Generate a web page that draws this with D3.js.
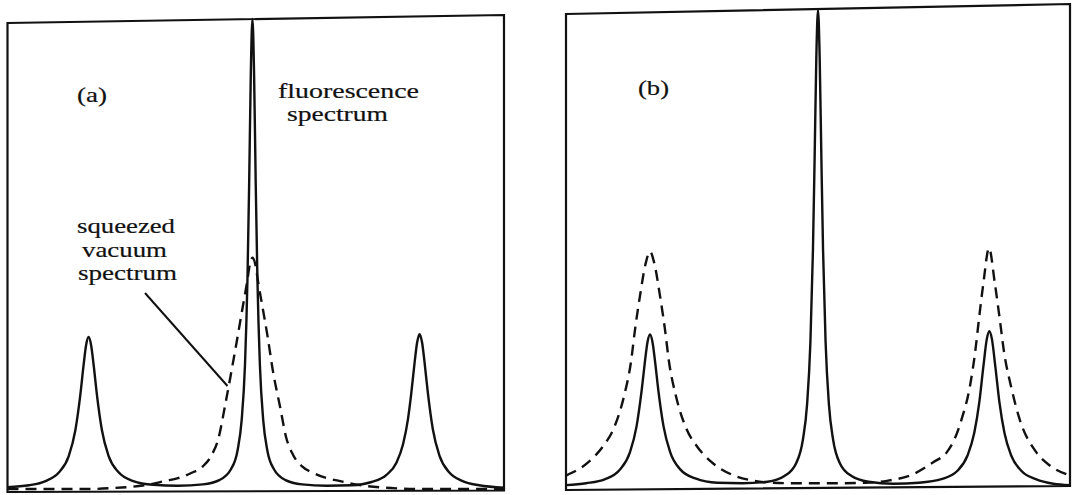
<!DOCTYPE html>
<html>
<head>
<meta charset="utf-8">
<script src="https://cdn.jsdelivr.net/npm/d3@7"></script>
<style>
  html, body { margin: 0; padding: 0; background: #fff; }
  svg { display: block; }
  .lbl { font-family: "Liberation Serif", "Times New Roman", serif; font-size: 21px;
         fill: #111; stroke: #111; stroke-width: 0.2px; }
</style>
</head>
<body>
<svg id="chart" width="1073" height="495"></svg>
<script>
// Spectra: x = detuning (in units of the Rabi frequency), y = relative intensity.

// Panel (a): fluorescence spectrum (solid)
const fluorescenceA = [
  [-1.48, 0.006], [-1.35, 0.010], [-1.25, 0.019], [-1.17, 0.037], [-1.11, 0.072], [-1.07, 0.127],
  [-1.04, 0.202], [-1.02, 0.266], [-1.005, 0.308], [-0.99, 0.325], [-0.975, 0.308], [-0.96, 0.267],
  [-0.94, 0.203], [-0.91, 0.128], [-0.87, 0.073], [-0.81, 0.038], [-0.72, 0.019], [-0.6, 0.011],
  [-0.45, 0.009], [-0.3, 0.012], [-0.2, 0.021], [-0.13, 0.044], [-0.09, 0.084], [-0.065, 0.149],
  [-0.045, 0.266], [-0.03, 0.449], [-0.02, 0.647], [-0.01, 0.881], [0, 1.0], [0.01, 0.881],
  [0.02, 0.647], [0.03, 0.449], [0.045, 0.266], [0.065, 0.149], [0.09, 0.084], [0.13, 0.044],
  [0.2, 0.021], [0.3, 0.012], [0.45, 0.009], [0.6, 0.010], [0.72, 0.017], [0.81, 0.032],
  [0.87, 0.058], [0.91, 0.097], [0.94, 0.151], [0.96, 0.206], [0.98, 0.271], [0.995, 0.313],
  [1.01, 0.331], [1.025, 0.313], [1.04, 0.271], [1.06, 0.206], [1.09, 0.129], [1.13, 0.073],
  [1.19, 0.037], [1.27, 0.019], [1.37, 0.010], [1.52, 0.005]
];

// Panel (a): squeezed vacuum spectrum (dashed)
const squeezedA = [
  [-1.48, 0.002], [-1.2, 0.002], [-1.0, 0.002], [-0.85, 0.004], [-0.7, 0.008], [-0.62, 0.012],
  [-0.53, 0.019], [-0.45, 0.025], [-0.37, 0.036], [-0.3, 0.05], [-0.245, 0.075], [-0.205, 0.11],
  [-0.165, 0.18], [-0.128, 0.25], [-0.09, 0.325], [-0.058, 0.39], [-0.033, 0.44], [-0.016, 0.478],
  [0, 0.493], [0.018, 0.478], [0.035, 0.44], [0.06, 0.39], [0.092, 0.325], [0.125, 0.25],
  [0.165, 0.18], [0.205, 0.11], [0.245, 0.075], [0.3, 0.05], [0.37, 0.036], [0.45, 0.025],
  [0.53, 0.019], [0.62, 0.012], [0.7, 0.008], [0.85, 0.004], [1.0, 0.002], [1.2, 0.002], [1.52, 0.002]
];

// Panel (b): fluorescence spectrum (solid)
const fluorescenceB = [
  [-1.5, 0.006], [-1.38, 0.010], [-1.27, 0.018], [-1.18, 0.038], [-1.12, 0.074], [-1.08, 0.129],
  [-1.05, 0.203], [-1.03, 0.265], [-1.015, 0.305], [-1.0, 0.321], [-0.985, 0.305], [-0.97, 0.265],
  [-0.95, 0.203], [-0.92, 0.130], [-0.88, 0.075], [-0.82, 0.039], [-0.73, 0.020], [-0.6, 0.011],
  [-0.45, 0.010], [-0.3, 0.013], [-0.2, 0.025], [-0.13, 0.052], [-0.09, 0.101], [-0.065, 0.175],
  [-0.045, 0.307], [-0.03, 0.499], [-0.02, 0.692], [-0.01, 0.9], [0, 1.0], [0.01, 0.9],
  [0.02, 0.692], [0.03, 0.499], [0.045, 0.307], [0.065, 0.175], [0.09, 0.101], [0.13, 0.052],
  [0.2, 0.025], [0.3, 0.013], [0.45, 0.009], [0.6, 0.011], [0.74, 0.019], [0.83, 0.036],
  [0.89, 0.068], [0.93, 0.115], [0.96, 0.179], [0.985, 0.256], [1.005, 0.312], [1.02, 0.328],
  [1.035, 0.312], [1.055, 0.256], [1.08, 0.179], [1.11, 0.115], [1.15, 0.068], [1.21, 0.036],
  [1.30, 0.018], [1.40, 0.009], [1.5, 0.006]
];

// Panel (b): squeezed vacuum spectrum (dashed)
const squeezedB = [
  [-1.5, 0.026], [-1.367, 0.054], [-1.278, 0.088], [-1.218, 0.123], [-1.154, 0.193], [-1.114, 0.262],
  [-1.089, 0.332], [-1.06, 0.401], [-1.025, 0.471], [-1.0, 0.495], [-0.975, 0.471], [-0.94, 0.401],
  [-0.911, 0.332], [-0.886, 0.262], [-0.846, 0.193], [-0.782, 0.123], [-0.722, 0.088], [-0.633, 0.054],
  [-0.5, 0.026], [-0.38, 0.015], [-0.28, 0.011], [-0.14, 0.010], [0, 0.010], [0.14, 0.010],
  [0.28, 0.011], [0.41, 0.015], [0.567, 0.029], [0.686, 0.054], [0.766, 0.0745], [0.81, 0.1],
  [0.855, 0.144], [0.905, 0.214], [0.935, 0.283], [0.958, 0.353], [0.985, 0.43], [1.018, 0.502],
  [1.052, 0.43], [1.082, 0.353], [1.108, 0.283], [1.148, 0.214], [1.2, 0.144], [1.3, 0.0745],
  [1.38, 0.047], [1.5, 0.026]
];

const panelLabels = ["(a)", "(b)"];
const fluorescenceLabel = ["fluorescence", "spectrum"];
const squeezedLabel = ["squeezed", "vacuum", "spectrum"];

const svg = d3.select("#chart");
const ink = "#111";

const panels = [
  {
    fluor: fluorescenceA, squeezed: squeezedA, label: panelLabels[0],
    xDomain: [-1.48, 1.52], xRange: [7.5, 504], yRange: [490, 19],
    frame: [[7.5, 23], [504, 15], [504, 490.5], [7.5, 492]],
    labelPos: [77, 102], labelLen: 30
  },
  {
    fluor: fluorescenceB, squeezed: squeezedB, label: panelLabels[1],
    xDomain: [-1.5, 1.5], xRange: [566, 1070], yRange: [488, 10],
    frame: [[566, 14], [1070, 4], [1070, 486], [566, 490]],
    labelPos: [638, 95], labelLen: 31
  }
];

panels.forEach((p, i) => {
  const g = svg.append("g");
  const x = d3.scaleLinear().domain(p.xDomain).range(p.xRange);
  const y = d3.scaleLinear().domain([0, 1]).range(p.yRange);
  const line = d3.line().x(d => x(d[0])).y(d => y(d[1])).curve(d3.curveMonotoneX);

  // frame
  g.append("path")
    .attr("d", d3.line()(p.frame) + "Z")
    .attr("fill", "none").attr("stroke", ink).attr("stroke-width", 2.2);

  // squeezed vacuum spectrum
  g.append("path").datum(p.squeezed)
    .attr("d", line)
    .attr("fill", "none").attr("stroke", ink).attr("stroke-width", 2.4)
    .attr("stroke-dasharray", "11,7");

  // fluorescence spectrum
  g.append("path").datum(p.fluor)
    .attr("d", line)
    .attr("fill", "none").attr("stroke", ink).attr("stroke-width", 2.4)
    .attr("stroke-linejoin", "round");

  g.append("text").attr("class", "lbl")
    .attr("x", p.labelPos[0]).attr("y", p.labelPos[1])
    .attr("textLength", p.labelLen).attr("lengthAdjust", "spacingAndGlyphs")
    .text(p.label);
});

// annotations in panel (a): each multi-line label is one text block
const ann = svg.append("g");

const fluorText = ann.append("text").attr("class", "lbl");
const fluorLines = [[278, 97.5, 141], [287, 121, 101]];
fluorescenceLabel.forEach((t, k) => {
  fluorText.append("tspan")
    .attr("x", fluorLines[k][0]).attr("y", fluorLines[k][1])
    .attr("textLength", fluorLines[k][2]).attr("lengthAdjust", "spacingAndGlyphs")
    .text(t);
});

const sqText = ann.append("text").attr("class", "lbl");
const sqLines = [[77, 233, 98], [82, 256.5, 85], [78, 280, 99]];
squeezedLabel.forEach((t, k) => {
  sqText.append("tspan")
    .attr("x", sqLines[k][0]).attr("y", sqLines[k][1])
    .attr("textLength", sqLines[k][2]).attr("lengthAdjust", "spacingAndGlyphs")
    .text(t);
});

// leader from label to the dashed curve
ann.append("line")
  .attr("x1", 145).attr("y1", 293).attr("x2", 227.5).attr("y2", 386)
  .attr("stroke", ink).attr("stroke-width", 2);
</script>
</body>
</html>
